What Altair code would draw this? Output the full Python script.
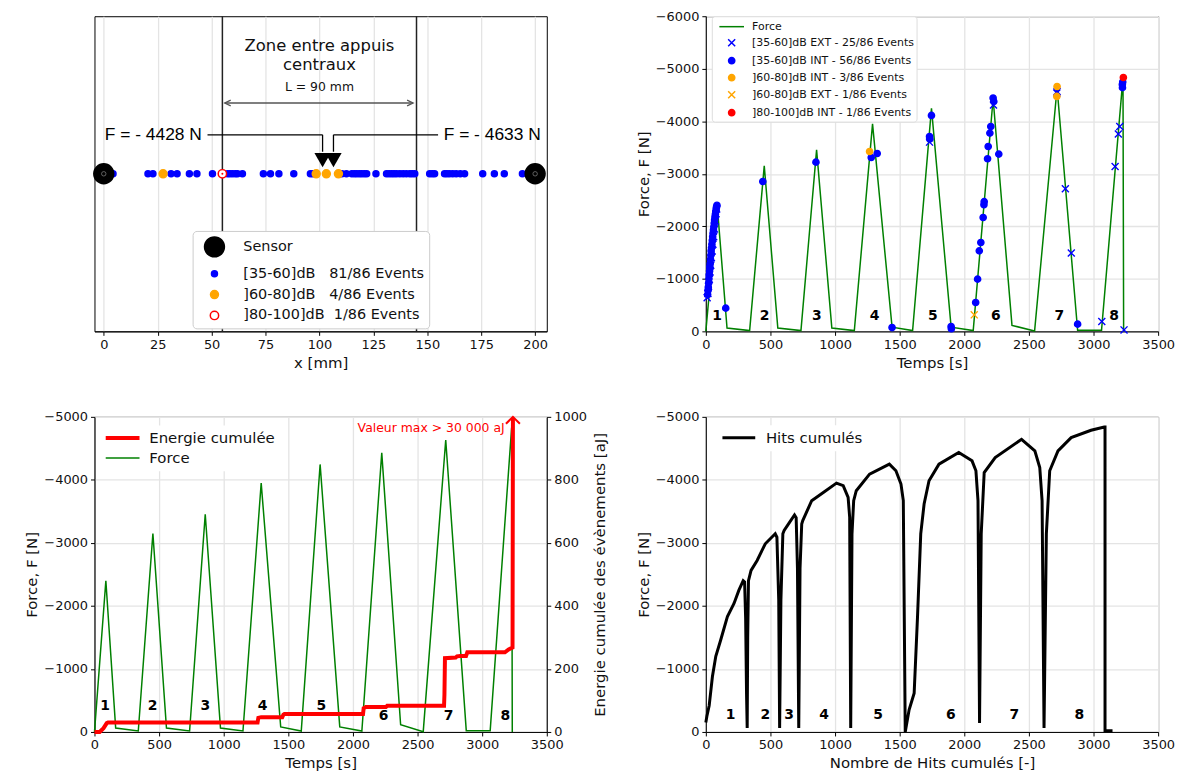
import altair as alt
import pandas as pd

FONT = "DejaVu Sans"
TXT = "#111111"
W, H = 455, 317

# ---------------- top-left : event locations along the beam [mm]
sensor_x = [0, 200]
blue_x = [4.3, 20.5, 22.8, 31.2, 34.0, 39.7, 43.2, 50.4, 57.4, 58.5, 59.7, 61.0, 62.0, 64.3,
          74.0, 77.3, 81.2, 88.1, 95.8, 97.0, 110.4, 112.5, 115.0, 116.2, 117.3, 118.5, 119.6,
          120.8, 121.9, 126.2, 131.1, 132.3, 133.5, 134.6, 135.8, 137.3, 138.8, 140.3, 141.9,
          143.0, 144.2, 151.1, 152.3, 153.4, 158.0, 159.1, 160.3, 161.8, 163.4, 165.3, 167.3,
          175.7, 181.1, 185.7, 194.1, 198.0]
orange_x = [27.5, 98.5, 103.2, 108.8]
red_x = [55.0]
support_x = [55, 145]
zone_text = ["Zone entre appuis", "centraux"]
span_text = "L = 90 mm"
peak_labels = ["F = - 4428 N", "F = - 4633 N"]
peak_marks_x = [101.45, 106.5]
catsA = ["Sensor",
         "[35-60]dB\u00a0\u00a0\u00a081/86 Events",
         "]60-80]dB\u00a0\u00a0\u00a04/86 Events",
         "]80-100]dB\u00a0\u00a01/86 Events"]

# ---------------- force history (s, N)
force_t = [0, 88, 164, 339, 452, 557, 736, 857, 975, 1149, 1290, 1441, 1600, 1746, 1898, 2069,
           2223, 2369, 2544, 2718, 2877, 3062, 3228, 3233]
force_F = [0, -2400, -63, -15, -3150, -63, -15, -3455, -63, -15, -3950, -80, -15, -4245, -80, -15,
           -4428, -114, -5, -4633, -20, -20, -4830, 0]

# ---------------- top-right events (time, force)
ext_blue_t = [10, 16, 21, 27, 33, 38, 43, 49, 55, 61, 67, 73, 79, 84, 1731, 2226, 2718, 2716,
              2782, 2828, 3064, 3167, 3192, 3203, 3236]
ext_blue_F = [-640, -720, -860, -990, -1130, -1260, -1400, -1530, -1660, -1800, -1950, -2100,
              -2240, -2330, -3603, -4310, -4568, -4540, -2714, -1490, -187, -3140, -3756, -3901, -28]
int_blue_t = [14, 17, 19, 22, 24, 26, 29, 31, 34, 36, 39, 41, 44, 47, 50, 53, 56, 59, 62, 65, 68,
              71, 74, 77, 80, 83, 86, 154, 441, 852, 1280, 1326, 1441, 1731, 1733, 1746, 1898,
              1900, 2088, 2103, 2116, 2128, 2146, 2152, 2154, 2180, 2185, 2198, 2205, 2223, 2228,
              2267, 2877, 3223, 3224, 3226]
int_blue_F = [-700, -780, -840, -920, -1000, -1080, -1150, -1230, -1290, -1370, -1450, -1530,
              -1590, -1660, -1730, -1800, -1870, -1930, -1990, -2060, -2120, -2180, -2230, -2280,
              -2330, -2370, -2400, -442, -2853, -3222, -3310, -3387, -72, -3711, -3660, -4111, -92,
              -50, -549, -994, -1533, -1692, -2168, -2410, -2470, -3286, -3520, -3775, -3901,
              -4442, -4378, -3375, -137, -4700, -4640, -4750]
int_orange_t = [1267, 2718, 2716]
int_orange_F = [-3425, -4663, -4473]
ext_orange_t = [2077]
ext_orange_F = [-314]
int_red_t = [3231]
int_red_F = [-4834]
catsB = ["Force",
         "[35-60]dB EXT - 25/86 Events",
         "[35-60]dB INT - 56/86 Events",
         "]60-80]dB INT - 3/86 Events",
         "]60-80]dB EXT - 1/86 Events",
         "]80-100]dB INT - 1/86 Events"]

# ---------------- cumulated energy (s, aJ)
energy_t = [0, 40, 70, 95, 105, 1262, 1268, 1290, 1453, 1462, 1470, 2078, 2083, 2100, 2255, 2265,
            2705, 2708, 2712, 2795, 2805, 2830, 2875, 2885, 3176, 3205, 3235, 3238]
energy_E = [0, 0, 12, 28, 30, 30, 45, 47, 47, 55, 57, 57, 75, 79, 79, 83, 83, 118, 234, 236, 240,
            241, 241, 253, 253, 262, 268, 997]
energy_note = "Valeur max > 30 000 aJ"

# ---------------- force vs cumulated hits
hits_n = [0, 8, 26, 51, 77, 115, 167, 218, 256, 289, 300, 308, 315, 320, 324, 330, 350, 397, 460,
          537, 550, 564, 571, 581, 596, 606, 640, 686, 699, 709, 719, 729, 742, 750, 819, 909,
          1011, 1063, 1101, 1113, 1121, 1131, 1144, 1164, 1267, 1420, 1471, 1510, 1528, 1543,
          1573, 1612, 1638, 1663, 1689, 1727, 1804, 1957, 2060, 2090, 2106, 2118, 2131, 2154,
          2239, 2443, 2546, 2584, 2602, 2617, 2635, 2661, 2725, 2827, 2981, 3083, 3089, 3089, 3147]
hits_F = [-150, -250, -420, -880, -1200, -1460, -1830, -2040, -2250, -2400, -2380, -1800, -600,
          -63, -1500, -2400, -2564, -2722, -2986, -3144, -3090, -2100, -63, -2100, -3144, -3196,
          -3302, -3444, -3400, -2600, -63, -2600, -3300, -3354, -3670, -3801, -3949, -3907,
          -3723, -3407, -63, -3144, -3670, -3828, -4092, -4250, -4144, -3933, -3670, 0, -352,
          -616, -1827, -3144, -3617, -3986, -4250, -4433, -4302, -4144, -3670, -142, -3144,
          -4117, -4354, -4644, -4460, -4196, -3670, -63, -3144, -4144, -4460, -4670, -4787,
          -4839, -4839, -20, -20]

# ---------------- cycle numbers
cycle_names = ["1", "2", "3", "4", "5", "6", "7", "8"]
cycleB_t = [88, 454, 859, 1305, 1757, 2244, 2736, 3159]
cycleB_F = [-295] * 8
cycleC_t = [82, 449, 857, 1301, 1755, 2237, 2740, 3179]
cycleC_F = [-415, -415, -415, -415, -415, -246, -246, -246]
cycleD_n = [192, 460, 645, 916, 1333, 1896, 2387, 2891]
cycleD_F = [-273] * 8


def circ(r):
    return f"M{r},0A{r},{r},0,1,1,{-r},0A{r},{r},0,1,1,{r},0Z"


XPATH = "M-0.47,-0.47L0.47,0.47M-0.47,0.47L0.47,-0.47"

# ======================= panel A =======================
xA_scale = alt.Scale(domain=[-4.3, 205.4], nice=False, zero=False)
yA_scale = alt.Scale(domain=[0, 1], nice=False)
xA = alt.X("x:Q", scale=xA_scale,
           axis=alt.Axis(title="x [mm]", values=list(range(0, 201, 25)), grid=True, format="d"))
yA = alt.Y("y:Q", scale=yA_scale, axis=None)

dfA = pd.DataFrame({
    "x": blue_x + orange_x + red_x + sensor_x,
    "cat": [catsA[1]] * len(blue_x) + [catsA[2]] * len(orange_x) + [catsA[3]] * len(red_x)
           + [catsA[0]] * len(sensor_x),
})
dfA["y"] = 0.5

legA = alt.Legend(title=None, orient="none", legendX=98.7, legendY=216, labelFontSize=14.5,
                  labelFont=FONT, labelColor=TXT, fillColor="white", strokeColor="#cccccc",
                  cornerRadius=4, padding=5, symbolOffset=6, labelOffset=18, rowPadding=3,
                  symbolStrokeWidth=1.5, symbolSize=400, labelLimit=400)

pointsA = alt.Chart(dfA).mark_point(size=400, strokeWidth=1.5, opacity=1).encode(
    x=xA, y=yA,
    shape=alt.Shape("cat:N", scale=alt.Scale(domain=catsA,
                    range=["circle", circ(0.3), circ(0.4), circ(0.42)]), legend=legA),
    fill=alt.Fill("cat:N", scale=alt.Scale(domain=catsA,
                  range=["black", "blue", "orange", "white"]), legend=legA),
    stroke=alt.Stroke("cat:N", scale=alt.Scale(domain=catsA,
                      range=["black", "blue", "orange", "red"]), legend=legA),
)
sens_in = alt.Chart(pd.DataFrame({"x": sensor_x, "y": [0.5] * 2})).mark_point(
    shape="circle", size=20, filled=False, stroke="#777777", strokeWidth=0.8, opacity=1
).encode(x=xA, y=yA)
red_in = alt.Chart(pd.DataFrame({"x": red_x, "y": [0.5]})).mark_point(
    shape="circle", size=4, filled=True, color="red", opacity=1).encode(x=xA, y=yA)

supports = alt.Chart(pd.DataFrame({"x": support_x})).mark_rule(
    color="#222222", strokeWidth=1.5).encode(x=xA)
zone = alt.Chart(pd.DataFrame({"x": [100, 100], "y": [0.9054, 0.8445], "t": zone_text})).mark_text(
    font=FONT, fontSize=16.5, color=TXT).encode(x=xA, y=yA, text="t:N")
span_lbl = alt.Chart(pd.DataFrame({"x": [100], "y": [0.776], "t": [span_text]})).mark_text(
    font=FONT, fontSize=12.5, color=TXT).encode(x=xA, y=yA, text="t:N")
span_rule = alt.Chart(pd.DataFrame({"x": [56.1], "x2": [143.4], "y": [0.7246]})).mark_rule(
    color="#555555", strokeWidth=1.3).encode(x=xA, x2="x2:Q", y=yA)
head_l = alt.Chart(pd.DataFrame({"x": [56.1], "y": [0.7246]})).mark_point(
    shape="M2,-0.95L0,0L2,0.95", size=36, filled=False, stroke="#555555", strokeWidth=1.3,
    opacity=1).encode(x=xA, y=yA)
head_r = alt.Chart(pd.DataFrame({"x": [143.4], "y": [0.7246]})).mark_point(
    shape="M-2,-0.95L0,0L-2,0.95", size=36, filled=False, stroke="#555555", strokeWidth=1.3,
    opacity=1).encode(x=xA, y=yA)
ann_h = alt.Chart(pd.DataFrame({"x": [48.1, peak_marks_x[1]], "x2": [peak_marks_x[0], 155.0],
                                "y": [0.6237, 0.6237]})).mark_rule(
    color="black", strokeWidth=1.3).encode(x=xA, x2="x2:Q", y=yA)
ann_v = alt.Chart(pd.DataFrame({"x": peak_marks_x, "y": [0.6237] * 2, "y2": [0.57] * 2})).mark_rule(
    color="black", strokeWidth=1.3).encode(x=xA, y=yA, y2="y2:Q")
ann_tri = alt.Chart(pd.DataFrame({"x": peak_marks_x, "y": [0.5435] * 2})).mark_point(
    shape="triangle-down", size=270, filled=True, color="black", opacity=1).encode(x=xA, y=yA)
ann_txt_l = alt.Chart(pd.DataFrame({"x": [45.5], "y": [0.6237], "t": [peak_labels[0]]})).mark_text(
    font="Liberation Sans", fontSize=17.5, align="right", color="black").encode(x=xA, y=yA, text="t:N")
ann_txt_r = alt.Chart(pd.DataFrame({"x": [157.6], "y": [0.6237], "t": [peak_labels[1]]})).mark_text(
    font="Liberation Sans", fontSize=17.5, align="left", color="black").encode(x=xA, y=yA, text="t:N")

A = alt.layer(supports, zone, span_lbl, span_rule, head_l, head_r, ann_h, ann_v, ann_tri,
              ann_txt_l, ann_txt_r, pointsA, sens_in, red_in).properties(width=W, height=H)

# ======================= panel B =======================
xT_scale = alt.Scale(domain=[0, 3500], nice=False)
xB = alt.X("t:Q", scale=xT_scale,
           axis=alt.Axis(title="Temps [s]", values=list(range(0, 3501, 500)), grid=True, format="d"))
yB = alt.Y("F:Q", scale=alt.Scale(domain=[-6000, 0], reverse=True, nice=False),
           axis=alt.Axis(title="Force, F [N]", values=list(range(-6000, 1, 1000)), grid=True,
                         format="d"))

dfForce = pd.DataFrame({"t": force_t, "F": force_F})
dfForce["i"] = range(len(dfForce))
forceB = alt.Chart(dfForce).mark_line(color="green", strokeWidth=1.5).encode(
    x=xB, y=yB, order="i:Q")

dfB = pd.DataFrame({
    "t": ext_blue_t + int_blue_t + int_orange_t + ext_orange_t + int_red_t,
    "F": ext_blue_F + int_blue_F + int_orange_F + ext_orange_F + int_red_F,
    "cat": [catsB[1]] * len(ext_blue_t) + [catsB[2]] * len(int_blue_t)
           + [catsB[3]] * len(int_orange_t) + [catsB[4]] * len(ext_orange_t)
           + [catsB[5]] * len(int_red_t),
})
legB = alt.Legend(title=None, orient="none", legendX=6, legendY=0, labelFontSize=11,
                  labelFont=FONT, labelColor=TXT, fillColor="white", strokeColor="#dddddd",
                  cornerRadius=3, padding=2, symbolOffset=9.5, labelOffset=12, rowPadding=2.1,
                  symbolStrokeWidth=1.5, symbolSize=225, labelLimit=400)
pointsB = alt.Chart(dfB).mark_point(size=225, strokeWidth=1.4, opacity=1).encode(
    x=xB, y=yB,
    shape=alt.Shape("cat:N", scale=alt.Scale(domain=catsB,
                    range=["M-1.65,0L1.65,0", XPATH, circ(0.42), circ(0.42), XPATH, circ(0.42)]),
                    legend=legB),
    fill=alt.Fill("cat:N", scale=alt.Scale(domain=catsB,
                  range=["transparent", "transparent", "blue", "orange", "transparent", "red"]),
                  legend=legB),
    stroke=alt.Stroke("cat:N", scale=alt.Scale(domain=catsB,
                      range=["green", "blue", "blue", "orange", "orange", "red"]), legend=legB),
)
numsB = alt.Chart(pd.DataFrame({"t": cycleB_t, "F": cycleB_F, "n": cycle_names})).mark_text(
    font=FONT, fontSize=14, fontWeight="bold", color="black").encode(x=xB, y=yB, text="n:N")

B = alt.layer(forceB, pointsB, numsB).properties(width=W, height=H)

# ======================= panel C =======================
seriesC = ["Energie cumulée", "Force"]
legC = alt.Legend(title=None, orient="none", legendX=8, legendY=8.8, symbolType="M-3.4,0L3.4,0",
                  symbolSize=100, symbolOffset=7.8, labelOffset=19.3, labelFontSize=15,
                  labelFont=FONT, labelColor=TXT, rowPadding=4, padding=5, fillColor="white",
                  labelLimit=400)
colC = alt.Color("series:N", scale=alt.Scale(domain=seriesC, range=["red", "green"]), legend=legC)
swC = alt.StrokeWidth("series:N", scale=alt.Scale(domain=seriesC, range=[4, 1.5]), legend=legC)

xC = alt.X("t:Q", scale=xT_scale,
           axis=alt.Axis(title="Temps [s]", values=list(range(0, 3501, 500)), grid=True, format="d"))
yC = alt.Y("F:Q", scale=alt.Scale(domain=[-5000, 0], reverse=True, nice=False),
           axis=alt.Axis(title="Force, F [N]", values=list(range(-5000, 1, 1000)), grid=True,
                         format="d"))
yE = alt.Y("E:Q", scale=alt.Scale(domain=[0, 1000], nice=False),
           axis=alt.Axis(title="Energie cumulée des évènements [aJ]", orient="right",
                         values=list(range(0, 1001, 200)), grid=False, format="d",
                         titleAngle=270, titleBaseline="top", titlePadding=6))

dfForceC = dfForce.copy()
dfForceC["series"] = "Force"
forceC = alt.Chart(dfForceC).mark_line().encode(x=xC, y=yC, color=colC, strokeWidth=swC,
                                                  order="i:Q")
numsC = alt.Chart(pd.DataFrame({"t": cycleC_t, "F": cycleC_F, "n": cycle_names})).mark_text(
    font=FONT, fontSize=14, fontWeight="bold", color="black").encode(x=xC, y=yC, text="n:N")

dfE = pd.DataFrame({"t": energy_t, "E": energy_E})
dfE["i"] = range(len(dfE))
dfE["series"] = "Energie cumulée"
energyC = alt.Chart(dfE).mark_line(strokeJoin="miter").encode(
    x=xC, y=yE, color=colC, strokeWidth=swC, order="i:Q")
arrowC = alt.Chart(pd.DataFrame({"t": [energy_t[-1]], "E": [1000]})).mark_point(
    shape="M-1,1L0,0L1,1", size=196, filled=False, stroke="red", strokeWidth=2, opacity=1
).encode(x=xC, y=yE)
noteC = alt.Chart(pd.DataFrame({"t": [3174], "E": [965], "s": [energy_note]})).mark_text(
    font=FONT, fontSize=12.5, color="red", align="right").encode(x=xC, y=yE, text="s:N")

C = alt.layer(alt.layer(forceC, numsC), alt.layer(energyC, arrowC, noteC)).resolve_scale(
    y="independent").properties(width=W, height=H)

# ======================= panel D =======================
xD = alt.X("n:Q", scale=alt.Scale(domain=[0, 3500], nice=False),
           axis=alt.Axis(title="Nombre de Hits cumulés [-]", values=list(range(0, 3501, 500)),
                         grid=True, format="d"))
yD = alt.Y("F:Q", scale=alt.Scale(domain=[-5000, 0], reverse=True, nice=False),
           axis=alt.Axis(title="Force, F [N]", values=list(range(-5000, 1, 1000)), grid=True,
                         format="d"))
legD = alt.Legend(title=None, orient="none", legendX=8, legendY=8.5, symbolType="M-3.3,0L3.3,0",
                  symbolSize=100, symbolOffset=12.7, labelOffset=19.7, labelFontSize=15,
                  labelFont=FONT, labelColor=TXT, padding=5, fillColor="white",
                  symbolStrokeWidth=3, labelLimit=400)
dfH = pd.DataFrame({"n": hits_n, "F": hits_F})
dfH["i"] = range(len(dfH))
dfH["series"] = "Hits cumulés"
hitsD = alt.Chart(dfH).mark_line(strokeWidth=3).encode(
    x=xD, y=yD, order="i:Q",
    color=alt.Color("series:N", scale=alt.Scale(domain=["Hits cumulés"], range=["black"]),
                    legend=legD))
numsD = alt.Chart(pd.DataFrame({"n": cycleD_n, "F": cycleD_F, "c": cycle_names})).mark_text(
    font=FONT, fontSize=14, fontWeight="bold", color="black").encode(x=xD, y=yD, text="c:N")

D = alt.layer(hitsD, numsD).properties(width=W, height=H)

chart = alt.concat(
    A, B, C, D, columns=2, spacing={"row": 86, "column": 160}, bounds="flush"
).resolve_scale(
    color="independent", fill="independent", stroke="independent", shape="independent",
    strokeWidth="independent"
).resolve_legend(
    color="independent", fill="independent", stroke="independent", shape="independent",
    strokeWidth="independent"
).properties(
    padding={"left": 16, "top": -1, "right": 5, "bottom": 0}
).configure_view(
    stroke="black", strokeWidth=1
).configure_axis(
    labelFont=FONT, titleFont=FONT, labelFontSize=13, titleFontSize=15,
    titleFontWeight="normal", labelColor=TXT, titleColor=TXT, domainColor="black",
    tickColor="black", gridColor="#e4e4e4", gridWidth=1.3, tickSize=4, labelPadding=3,
    titlePadding=4, labelFlush=False
)

chart.save("out.html", embed_options={"renderer": "svg", "actions": False})
